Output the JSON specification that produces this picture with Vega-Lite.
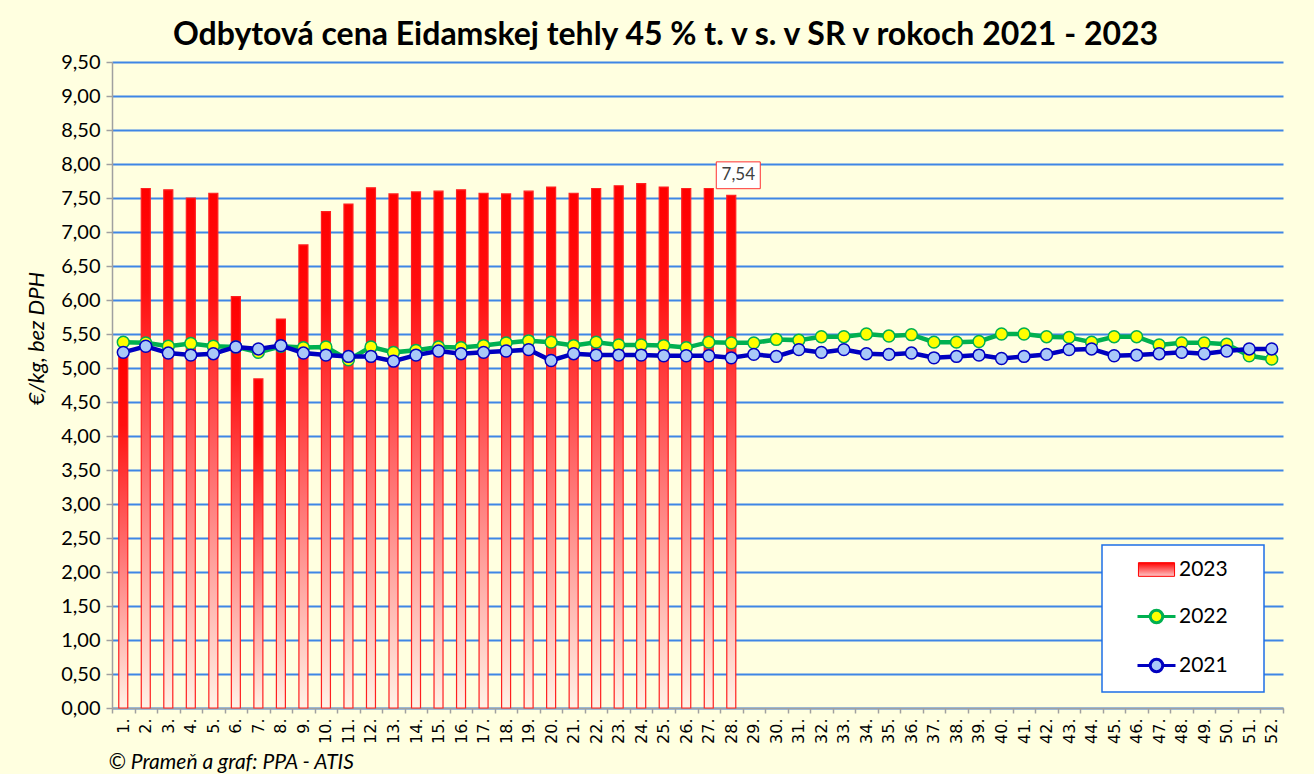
{
  "$schema": "https://vega.github.io/schema/vega-lite/v6.json",
  "width": 1171,
  "height": 646,
  "autosize": {"type": "none"},
  "padding": {"left": 112, "top": 62, "right": 31, "bottom": 66},
  "background": "#FFFFE0",
  "title": {
    "text": "Odbytová cena Eidamskej tehly 45 % t. v s. v SR v rokoch 2021 - 2023",
    "font": "Lato",
    "fontSize": 32,
    "fontWeight": "bold",
    "color": "#000000",
    "anchor": "middle",
    "frame": "group",
    "dx": -32,
    "dy": 8,
    "offset": 8
  },
  "config": {
    "view": {"stroke": null},
    "font": "Lato"
  },
  "datasets": {
    "y2023": [
      {"week": 1, "value": 5.2}, {"week": 2, "value": 7.64}, {"week": 3, "value": 7.62}, {"week": 4, "value": 7.5},
      {"week": 5, "value": 7.57}, {"week": 6, "value": 6.05}, {"week": 7, "value": 4.84}, {"week": 8, "value": 5.72},
      {"week": 9, "value": 6.81}, {"week": 10, "value": 7.3}, {"week": 11, "value": 7.41}, {"week": 12, "value": 7.65},
      {"week": 13, "value": 7.56}, {"week": 14, "value": 7.59}, {"week": 15, "value": 7.6}, {"week": 16, "value": 7.62},
      {"week": 17, "value": 7.57}, {"week": 18, "value": 7.56}, {"week": 19, "value": 7.6}, {"week": 20, "value": 7.66},
      {"week": 21, "value": 7.57}, {"week": 22, "value": 7.64}, {"week": 23, "value": 7.68}, {"week": 24, "value": 7.71},
      {"week": 25, "value": 7.66}, {"week": 26, "value": 7.64}, {"week": 27, "value": 7.64}, {"week": 28, "value": 7.54}
    ],
    "y2022": [
      {"week": 1, "value": 5.38}, {"week": 2, "value": 5.37}, {"week": 3, "value": 5.32}, {"week": 4, "value": 5.36},
      {"week": 5, "value": 5.32}, {"week": 6, "value": 5.31}, {"week": 7, "value": 5.23}, {"week": 8, "value": 5.32},
      {"week": 9, "value": 5.3}, {"week": 10, "value": 5.31}, {"week": 11, "value": 5.12}, {"week": 12, "value": 5.31},
      {"week": 13, "value": 5.23}, {"week": 14, "value": 5.26}, {"week": 15, "value": 5.31}, {"week": 16, "value": 5.3},
      {"week": 17, "value": 5.33}, {"week": 18, "value": 5.37}, {"week": 19, "value": 5.4}, {"week": 20, "value": 5.38},
      {"week": 21, "value": 5.33}, {"week": 22, "value": 5.38}, {"week": 23, "value": 5.34}, {"week": 24, "value": 5.34},
      {"week": 25, "value": 5.33}, {"week": 26, "value": 5.3}, {"week": 27, "value": 5.38}, {"week": 28, "value": 5.37},
      {"week": 29, "value": 5.37}, {"week": 30, "value": 5.42}, {"week": 31, "value": 5.41}, {"week": 32, "value": 5.46},
      {"week": 33, "value": 5.46}, {"week": 34, "value": 5.5}, {"week": 35, "value": 5.47}, {"week": 36, "value": 5.49},
      {"week": 37, "value": 5.38}, {"week": 38, "value": 5.38}, {"week": 39, "value": 5.39}, {"week": 40, "value": 5.5},
      {"week": 41, "value": 5.5}, {"week": 42, "value": 5.46}, {"week": 43, "value": 5.45}, {"week": 44, "value": 5.38},
      {"week": 45, "value": 5.46}, {"week": 46, "value": 5.46}, {"week": 47, "value": 5.34}, {"week": 48, "value": 5.37},
      {"week": 49, "value": 5.37}, {"week": 50, "value": 5.35}, {"week": 51, "value": 5.18}, {"week": 52, "value": 5.13}
    ],
    "y2021": [
      {"week": 1, "value": 5.23}, {"week": 2, "value": 5.32}, {"week": 3, "value": 5.22}, {"week": 4, "value": 5.19},
      {"week": 5, "value": 5.21}, {"week": 6, "value": 5.31}, {"week": 7, "value": 5.28}, {"week": 8, "value": 5.33},
      {"week": 9, "value": 5.22}, {"week": 10, "value": 5.19}, {"week": 11, "value": 5.17}, {"week": 12, "value": 5.17},
      {"week": 13, "value": 5.1}, {"week": 14, "value": 5.19}, {"week": 15, "value": 5.25}, {"week": 16, "value": 5.21},
      {"week": 17, "value": 5.23}, {"week": 18, "value": 5.25}, {"week": 19, "value": 5.27}, {"week": 20, "value": 5.11},
      {"week": 21, "value": 5.21}, {"week": 22, "value": 5.19}, {"week": 23, "value": 5.19}, {"week": 24, "value": 5.19},
      {"week": 25, "value": 5.18}, {"week": 26, "value": 5.18}, {"week": 27, "value": 5.18}, {"week": 28, "value": 5.15},
      {"week": 29, "value": 5.2}, {"week": 30, "value": 5.17}, {"week": 31, "value": 5.27}, {"week": 32, "value": 5.23},
      {"week": 33, "value": 5.27}, {"week": 34, "value": 5.21}, {"week": 35, "value": 5.2}, {"week": 36, "value": 5.22},
      {"week": 37, "value": 5.15}, {"week": 38, "value": 5.17}, {"week": 39, "value": 5.19}, {"week": 40, "value": 5.14},
      {"week": 41, "value": 5.17}, {"week": 42, "value": 5.2}, {"week": 43, "value": 5.27}, {"week": 44, "value": 5.28},
      {"week": 45, "value": 5.18}, {"week": 46, "value": 5.19}, {"week": 47, "value": 5.21}, {"week": 48, "value": 5.23},
      {"week": 49, "value": 5.21}, {"week": 50, "value": 5.25}, {"week": 51, "value": 5.28}, {"week": 52, "value": 5.28}
    ],
    "lastLabel": [
      {"week": 28, "value": 7.54, "text": "7,54"}
    ]
  },
  "encoding": {
    "x": {
      "field": "week",
      "type": "ordinal",
      "scale": {
        "type": "band",
        "paddingInner": 0,
        "paddingOuter": 0,
        "domain": [1,2,3,4,5,6,7,8,9,10,11,12,13,14,15,16,17,18,19,20,21,22,23,24,25,26,27,28,29,30,31,32,33,34,35,36,37,38,39,40,41,42,43,44,45,46,47,48,49,50,51,52]
      },
      "axis": {
        "title": "© Prameň a graf: PPA - ATIS",
        "titleFont": "Lato",
        "titleFontSize": 21,
        "titleFontStyle": "italic",
        "titleFontWeight": "normal",
        "titleColor": "#000000",
        "titleX": -4,
        "titleY": 54,
        "titleAlign": "left",
        "titleBaseline": "middle",
        "titleAngle": 0,
        "labelExpr": "isValid(datum.value) ? datum.value + '.' : ''",
        "labelAngle": -90,
        "labelFont": "DejaVu Sans",
        "labelFontSize": 16,
        "labelColor": "#000000",
        "labelPadding": 5,
        "tickBand": "extent",
        "tickSize": 5,
        "tickColor": "#A0A0A0",
        "tickWidth": 1.5,
        "domainColor": "#A0A0A0",
        "domainWidth": 1.5,
        "grid": false,
        "labelOverlap": false
      }
    },
    "y": {
      "field": "value",
      "type": "quantitative",
      "scale": {"domain": [0, 9.5], "nice": false, "zero": true},
      "axis": {
        "title": "€/kg, bez DPH",
        "titleFont": "Lato",
        "titleFontSize": 22,
        "titleFontStyle": "italic",
        "titleFontWeight": "normal",
        "titleColor": "#000000",
        "titleX": -76,
        "titleY": 276,
        "titleAngle": -90,
        "titleAlign": "center",
        "titleBaseline": "middle",
        "values": [0,0.5,1,1.5,2,2.5,3,3.5,4,4.5,5,5.5,6,6.5,7,7.5,8,8.5,9,9.5],
        "labelExpr": "replace(format(datum.value, '.2f'), '.', ',')",
        "labelFont": "Lato",
        "labelFontSize": 20,
        "labelColor": "#000000",
        "labelPadding": 6,
        "tickSize": 6,
        "tickColor": "#A0A0A0",
        "tickWidth": 1.5,
        "domainColor": "#A0A0A0",
        "domainWidth": 1.5,
        "grid": true,
        "gridColor": "#3F86E5",
        "gridWidth": 2
      }
    }
  },
  "layer": [
    {
      "data": {"name": "y2023"},
      "mark": {
        "type": "bar",
        "size": 9,
        "fill": {
          "gradient": "linear",
          "x1": 0, "y1": 0, "x2": 0, "y2": 1,
          "stops": [
            {"offset": 0, "color": "#FF0000"},
            {"offset": 0.2, "color": "#FF1010"},
            {"offset": 0.55, "color": "#FF7070"},
            {"offset": 1, "color": "#FFF2E6"}
          ]
        },
        "stroke": "#FF2020",
        "strokeWidth": 1.2
      }
    },
    {
      "data": {"name": "y2022"},
      "mark": {"type": "line", "strokeWidth": 4.5},
      "encoding": {
        "color": {
          "datum": "2022",
          "type": "nominal",
          "scale": {"domain": ["2023", "2022", "2021"], "range": ["#FF0000", "#00B050", "#0000C0"]},
          "legend": {
            "title": null,
            "orient": "none",
            "legendX": 990,
            "legendY": 483,
            "padding": 14,
            "fillColor": "#FFFFFF",
            "strokeColor": "#1E6FE6",
            "symbolSize": 1444,
            "symbolOffset": 30,
            "labelOffset": 12,
            "rowPadding": 24,
            "labelFont": "Lato",
            "labelFontSize": 21,
            "labelColor": "#000000",
            "encode": {
              "legend": {
                "update": {"strokeWidth": {"value": 1.5}}
              },
              "symbols": {
                "update": {
                  "shape": {"signal": "datum.value === '2023' ? 'M-0.95,-0.36H0.95V0.36H-0.95Z M4.6,0' : 'M-1,0H-0.33M0.33,0H1M-0.33,0A0.33,0.33 0 1,0 0.33,0A0.33,0.33 0 1,0 -0.33,0Z M4.6,0'"},
                  "fill": {"signal": "datum.value === '2023' ? {gradient: 'linear', x1: 0, y1: 0, x2: 0, y2: 1, stops: [{offset: 0, color: '#FF0000'}, {offset: 1, color: '#FFC8C8'}]} : datum.value === '2022' ? '#FFFF00' : '#A9C8F8'"},
                  "stroke": {"signal": "datum.value === '2023' ? '#FF2020' : datum.value === '2022' ? '#00B050' : '#0000C0'"},
                  "strokeWidth": {"signal": "datum.value === '2023' ? 1 : 3"},
                  "opacity": {"value": 1}
                }
              }
            }
          }
        }
      }
    },
    {
      "data": {"name": "y2022"},
      "mark": {"type": "point", "shape": "circle", "filled": true, "size": 140, "fill": "#FFFF00", "stroke": "#00B050", "strokeWidth": 1.5, "opacity": 1}
    },
    {
      "data": {"name": "y2021"},
      "mark": {"type": "line", "strokeWidth": 4.5},
      "encoding": {
        "color": {"datum": "2021", "type": "nominal"}
      }
    },
    {
      "data": {"name": "y2021"},
      "mark": {"type": "point", "shape": "circle", "filled": true, "size": 140, "fill": "#A9C8F8", "stroke": "#0000C0", "strokeWidth": 1.5, "opacity": 1}
    },
    {
      "data": {"name": "lastLabel"},
      "mark": {"type": "point", "shape": "M-1,-0.61H1V0.61H-1Z", "size": 1936, "filled": true, "fill": "#FFFFFF", "stroke": "#FF3030", "strokeWidth": 1, "opacity": 1, "xOffset": 7, "yOffset": -20}
    },
    {
      "data": {"name": "lastLabel"},
      "mark": {"type": "text", "font": "Lato", "fontSize": 17, "color": "#404040", "align": "center", "baseline": "middle", "xOffset": 7, "yOffset": -20},
      "encoding": {"text": {"field": "text"}}
    }
  ]
}
